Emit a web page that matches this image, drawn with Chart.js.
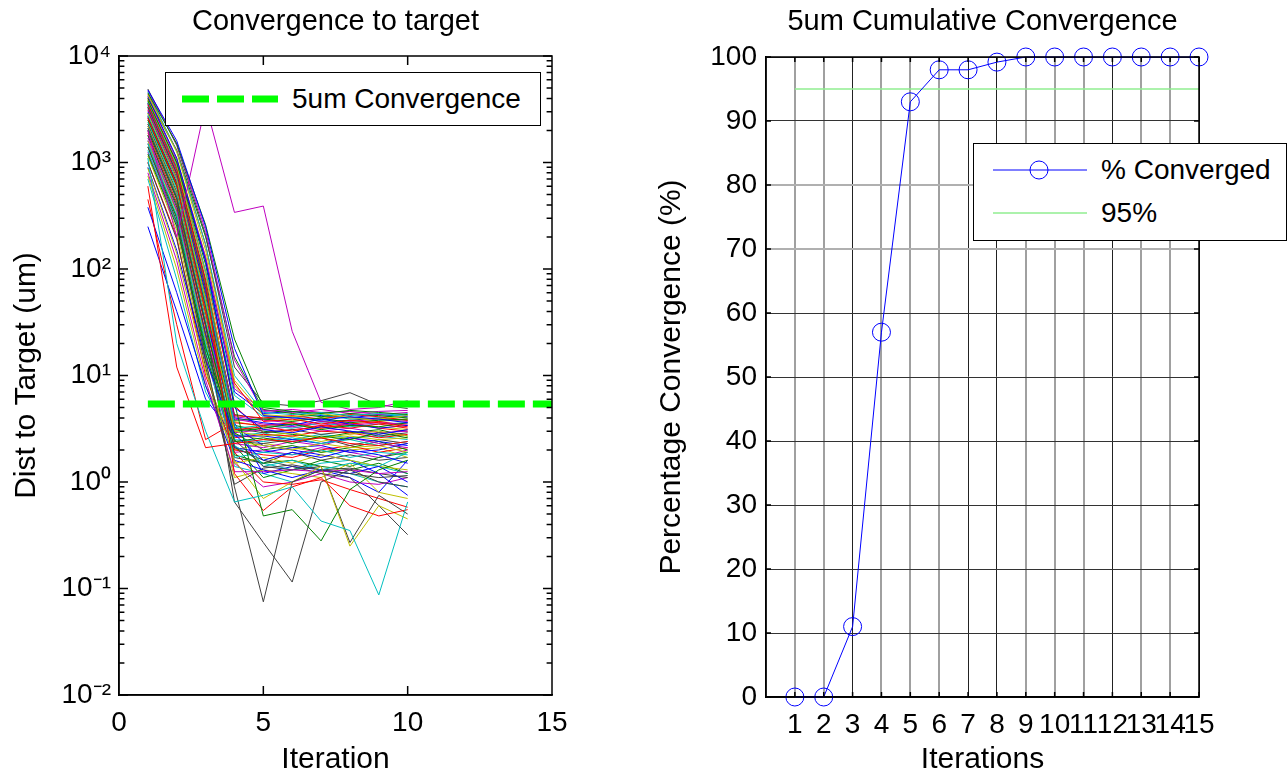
<!DOCTYPE html>
<html>
<head>
<meta charset="utf-8">
<script src="https://cdn.jsdelivr.net/npm/chart.js@4.4.1/dist/chart.umd.min.js"></script>
<style>
  body { margin: 0; background: #fff; font-family: "Liberation Sans", Arial, sans-serif; }
  #wrap { position: relative; width: 1287px; height: 778px; overflow: hidden; }
  .pane { position: absolute; top: 0; height: 778px; }
  .legend { position: absolute; background: #fff; border: 1.5px solid #000; box-sizing: border-box; font-size: 28px; color: #000; }
  .row { position: absolute; left: 0; display: flex; align-items: center; }
  .row svg { margin-right: 14px; }
</style>
</head>
<body>
<div id="wrap">
  <div class="pane" style="left:0;width:640px"><canvas id="left"></canvas></div>
  <div class="pane" style="left:640px;width:647px"><canvas id="right"></canvas></div>

  <div class="legend" style="left:165px;top:72px;width:376px;height:54px">
    <div class="row" style="left:16px;top:10px">
      <svg width="96" height="10"><line x1="0" y1="5" x2="96" y2="5" stroke="#00ff00" stroke-width="7" stroke-dasharray="27 8"/></svg>
      <span>5um Convergence</span>
    </div>
  </div>

  <div class="legend" style="left:973px;top:143px;width:314px;height:98px">
    <div class="row" style="left:19px;top:10px">
      <svg width="94" height="24"><line x1="0" y1="12" x2="94" y2="12" stroke="#0000ff" stroke-width="1"/><circle cx="46" cy="12" r="9" fill="none" stroke="#0000ff" stroke-width="1"/></svg>
      <span>% Converged</span>
    </div>
    <div class="row" style="left:19px;top:53px">
      <svg width="94" height="24"><line x1="0" y1="12" x2="94" y2="12" stroke="#90ee90" stroke-width="1.5"/></svg>
      <span>95%</span>
    </div>
  </div>
</div>

<script>
const FONT = '"Liberation Sans", Arial, sans-serif';
const TICK = 28;
const LABEL = 30;

// ---- left plot: distance to target per run, iterations 1..10 ----
const iterations = [1, 2, 3, 4, 5, 6, 7, 8, 9, 10];

const runsBlue = [
  [4800, 1600, 250, 18, 4.2, 4.0, 3.8, 4.1, 3.9, 3.6],
  [4200, 1100, 120, 5.0, 3.1, 2.9, 3.3, 3.0, 2.8, 3.1],
  [900, 150, 14, 2.8, 1.6, 1.9, 1.7, 2.0, 1.8, 1.5],
  [380, 60, 8, 1.6, 1.3, 1.1, 1.3, 1.2, 1.4, 1.0],
  [250, 40, 6, 2.7, 2.7, 2.5, 2.3, 2.6, 2.4, 2.2],
  [3000, 700, 60, 4.0, 3.6, 3.4, 3.9, 3.5, 3.2, 3.4],
  [2200, 500, 35, 3.3, 2.2, 2.0, 1.8, 1.6, 1.2, 0.75],
  [3600, 1000, 120, 7.0, 4.4, 4.6, 4.2, 4.0, 4.3, 4.1],
  [1600, 350, 25, 2.1, 1.9, 2.1, 2.2, 1.9, 2.0, 2.3],
  [2700, 650, 50, 3.6, 1.2, 1.4, 1.3, 1.1, 0.8, 1.6]
];
const runsGreen = [
  [4500, 1500, 260, 22, 5.0, 4.6, 4.4, 4.7, 4.5, 4.3],
  [3800, 1000, 110, 5.5, 0.48, 0.55, 0.28, 0.85, 1.3, 1.6],
  [2000, 450, 30, 2.4, 2.6, 2.3, 2.7, 2.5, 2.9, 2.6],
  [1200, 250, 18, 3.0, 3.2, 3.5, 3.1, 3.4, 3.3, 3.6],
  [3300, 800, 70, 3.8, 3.9, 3.7, 4.0, 3.6, 3.8, 3.9],
  [4000, 1300, 200, 15, 4.8, 4.4, 4.1, 4.4, 4.2, 4.0],
  [2500, 600, 45, 2.9, 2.0, 2.2, 1.9, 2.1, 2.4, 2.0],
  [1800, 380, 22, 1.8, 1.5, 1.6, 1.4, 1.3, 1.5, 1.2],
  [2900, 720, 55, 3.4, 3.0, 2.8, 2.6, 2.9, 3.1, 2.7],
  [1400, 300, 16, 2.2, 1.1, 1.3, 1.6, 1.4, 1.7, 1.9]
];
const runsRed = [
  [600, 12, 2.1, 2.3, 2.5, 2.4, 2.6, 2.3, 2.2, 2.4],
  [3500, 850, 75, 1.2, 0.54, 0.9, 1.1, 0.6, 0.48, 0.55],
  [4400, 1300, 170, 8.5, 3.7, 3.9, 3.5, 3.8, 3.6, 3.3],
  [2600, 620, 40, 3.1, 3.3, 3.0, 3.4, 3.2, 3.5, 3.2],
  [1900, 420, 28, 2.6, 2.8, 2.7, 3.0, 2.9, 2.6, 2.8],
  [450, 30, 2.5, 3.6, 3.4, 3.6, 3.2, 3.5, 3.7, 3.4],
  [3100, 760, 62, 4.2, 4.0, 4.2, 3.9, 4.3, 4.1, 3.8],
  [1000, 200, 10, 1.9, 1.0, 0.95, 1.05, 0.85, 0.7, 0.58],
  [3900, 980, 95, 5.2, 2.9, 3.1, 3.3, 3.6, 3.2, 3.0],
  [2300, 520, 38, 2.0, 1.8, 1.7, 2.0, 2.2, 1.9, 2.1]
];
const runsCyan = [
  [1100, 20, 3.0, 0.65, 0.75, 0.9, 0.43, 0.35, 0.087, 0.65],
  [4600, 1280, 170, 10, 4.5, 4.3, 4.5, 4.2, 4.4, 4.2],
  [2100, 480, 32, 2.5, 2.4, 2.6, 2.3, 2.5, 2.2, 2.4],
  [3400, 820, 68, 3.5, 1.4, 1.6, 1.3, 1.5, 1.4, 1.9],
  [1500, 320, 20, 1.7, 1.9, 1.8, 2.0, 1.7, 1.9, 1.8],
  [2800, 680, 48, 3.2, 3.4, 3.2, 3.6, 3.3, 3.5, 3.6],
  [3700, 930, 95, 6.5, 4.1, 4.0, 4.3, 3.9, 4.0, 4.4],
  [700, 80, 7, 2.2, 1.5, 1.3, 1.5, 1.6, 1.4, 1.2],
  [2400, 560, 42, 2.7, 2.9, 2.5, 2.8, 2.6, 2.7, 2.5],
  [1300, 270, 17, 1.4, 1.2, 1.0, 1.3, 1.2, 1.0, 0.9]
];
const runsMagenta = [
  [2000, 200, 3500, 340, 390, 26, 5.6, 4.8, 5.0, 5.8],
  [4700, 1500, 230, 14, 4.6, 4.8, 4.5, 4.6, 4.3, 4.5],
  [800, 120, 9, 1.25, 1.25, 1.3, 1.25, 1.3, 1.2, 1.25],
  [3200, 780, 65, 3.9, 3.5, 3.3, 3.7, 3.4, 3.6, 3.5],
  [2000, 460, 30, 2.3, 2.1, 2.4, 2.2, 2.6, 2.3, 2.1],
  [4100, 1050, 130, 7.5, 4.7, 4.5, 4.8, 4.4, 4.6, 4.7],
  [1700, 360, 24, 2.9, 3.1, 3.3, 3.0, 3.2, 2.9, 3.0],
  [2600, 610, 44, 1.5, 0.9, 1.0, 1.2, 1.0, 0.95, 1.1],
  [3500, 880, 80, 4.1, 3.8, 3.6, 3.4, 3.7, 3.9, 3.7],
  [1250, 260, 15, 1.9, 2.0, 1.8, 2.1, 1.9, 1.7, 2.0]
];
const runsYellow = [
  [4300, 1250, 150, 9.0, 4.3, 4.1, 4.4, 4.0, 3.9, 4.2],
  [880, 140, 11, 1.6, 0.7, 1.0, 1.4, 0.25, 0.6, 0.45],
  [2900, 700, 52, 3.0, 2.7, 2.9, 2.6, 2.8, 3.0, 2.7],
  [750, 100, 8, 2.4, 2.2, 2.0, 2.3, 2.1, 2.2, 1.9],
  [2200, 510, 36, 1.5, 1.7, 1.5, 1.8, 1.6, 1.4, 1.3],
  [3800, 950, 88, 3.7, 3.3, 3.5, 3.2, 3.4, 3.3, 3.1],
  [1600, 340, 22, 2.8, 2.5, 2.7, 2.4, 2.7, 2.5, 2.6],
  [4000, 1100, 130, 8.0, 4.2, 3.8, 4.0, 4.1, 3.7, 3.9],
  [1150, 230, 13, 1.1, 1.3, 1.2, 1.1, 1.5, 0.8, 0.7],
  [2500, 590, 46, 2.0, 2.3, 2.1, 1.9, 2.0, 2.1, 1.7]
];
const runsBlack = [
  [1400, 280, 14, 0.9, 0.075, 1.0, 1.3, 1.2, 1.1, 1.15],
  [2100, 470, 30, 0.65, 0.27, 0.115, 1.0, 1.3, 1.0, 0.9],
  [3300, 790, 66, 2.5, 1.4, 1.3, 1.4, 0.27, 0.75, 0.5],
  [1800, 400, 24, 2.1, 1.6, 1.4, 1.2, 1.1, 0.6, 0.32],
  [4900, 1450, 210, 12, 5.5, 5.2, 5.8, 6.9, 5.3, 4.9],
  [2700, 640, 47, 3.2, 2.9, 3.1, 2.8, 3.0, 2.7, 2.9],
  [1000, 190, 12, 0.95, 1.35, 1.45, 1.3, 1.35, 1.2, 1.1],
  [3600, 910, 78, 4.3, 3.9, 4.1, 3.7, 3.8, 4.0, 3.8],
  [2300, 530, 37, 2.4, 2.3, 2.5, 2.6, 2.2, 2.5, 2.3],
  [1500, 310, 19, 1.7, 1.5, 1.9, 1.6, 1.8, 1.6, 1.7]
];

const targetX = [1, 15];
const targetY = 5.4;

const xTicksLeft = [0, 5, 10, 15];
const yTickValues = [0.01, 0.1, 1, 10, 100, 1000, 10000];
const yTickLabels = ['10\u207B\u00B2', '10\u207B\u00B9', '10\u2070', '10\u00B9', '10\u00B2', '10\u00B3', '10\u2074'];

// ---- right plot: cumulative convergence ----
const convIters = [1, 2, 3, 4, 5, 6, 7, 8, 9, 10, 11, 12, 13, 14, 15];
const pctConverged = [0, 0, 11, 57, 93, 98, 98, 99.2, 100, 100, 100, 100, 100, 100, 100];
const target95 = 95;

// matlab style line colour cycle
const groups = [
  [runsBlue, '#0000ff'], [runsGreen, '#008000'], [runsRed, '#ff0000'],
  [runsCyan, '#00bfbf'], [runsMagenta, '#bf00bf'], [runsYellow, '#bfbf00'], [runsBlack, '#404040']
];

const leftSets = [{
  data: targetX.map(x => ({x: x, y: targetY})),
  borderColor: '#00ff00', borderWidth: 7, borderDash: [27, 8],
  pointRadius: 0, order: 0
}];
for (let k = 0; k < 10; k++) {
  for (let g of groups) {
    let run = g[0][k];
    if (!run) continue;
    leftSets.push({
      data: iterations.map((x, i) => ({x: x, y: run[i]})),
      borderColor: g[1], borderWidth: 1, pointRadius: 0, order: 1
    });
  }
}

// box round the axes plus inward tick marks, matlab style
const boxTicks = {
  id: 'boxTicks',
  afterDatasetsDraw(chart, args, opts) {
    const {ctx, chartArea: a, scales} = chart;
    ctx.save();
    ctx.strokeStyle = '#000';
    ctx.lineWidth = 1.5;
    ctx.strokeRect(a.left, a.top, a.right - a.left, a.bottom - a.top);
    ctx.beginPath();
    for (let v of opts.x || []) {
      let px = scales.x.getPixelForValue(v);
      ctx.moveTo(px, a.bottom); ctx.lineTo(px, a.bottom - opts.len);
      ctx.moveTo(px, a.top); ctx.lineTo(px, a.top + opts.len);
    }
    for (let v of opts.y || []) {
      let py = scales.y.getPixelForValue(v);
      ctx.moveTo(a.left, py); ctx.lineTo(a.left + opts.len, py);
      ctx.moveTo(a.right, py); ctx.lineTo(a.right - opts.len, py);
    }
    for (let v of opts.yMinor || []) {
      let py = scales.y.getPixelForValue(v);
      ctx.moveTo(a.left, py); ctx.lineTo(a.left + opts.len * 0.6, py);
      ctx.moveTo(a.right, py); ctx.lineTo(a.right - opts.len * 0.6, py);
    }
    ctx.stroke();
    ctx.restore();
  }
};

// title centred over the plot box rather than the canvas
const boxTitle = {
  id: 'boxTitle',
  afterDraw(chart, args, opts) {
    const {ctx, chartArea: a} = chart;
    ctx.save();
    ctx.fillStyle = '#000';
    ctx.font = opts.size + 'px ' + FONT;
    ctx.textAlign = 'center';
    ctx.textBaseline = 'middle';
    ctx.fillText(opts.text, (a.left + a.right) / 2, opts.y);
    ctx.restore();
  }
};

const yMinor = [];
for (let e = -2; e < 4; e++) {
  for (let m = 2; m < 10; m++) yMinor.push(m * Math.pow(10, e));
}

new Chart(document.getElementById('left'), {
  type: 'line',
  data: {datasets: leftSets},
  options: {
    responsive: true,
    maintainAspectRatio: false,
    animation: false,
    layout: {padding: {left: 0, right: 88, top: 56, bottom: 0}},
    plugins: {
      legend: {display: false},
      tooltip: {enabled: false},
      boxTitle: {text: 'Convergence to target', size: 29, y: 22},
      boxTicks: {x: [5, 10], y: yTickValues, yMinor: yMinor, len: 9}
    },
    scales: {
      x: {
        type: 'linear', min: 0, max: 15,
        afterBuildTicks: s => { s.ticks = xTicksLeft.map(v => ({value: v})); },
        afterFit: s => { s.height = 83; },
        grid: {display: false, drawTicks: false},
        border: {display: true, color: '#000', width: 1.5},
        ticks: {color: '#000', padding: 11, font: {family: FONT, size: TICK}, maxRotation: 0},
        title: {display: true, text: 'Iteration', color: '#000', font: {family: FONT, size: LABEL}, padding: {top: 0, bottom: 0}}
      },
      y: {
        type: 'logarithmic', min: 0.01, max: 10000,
        afterBuildTicks: s => { s.ticks = yTickValues.map(v => ({value: v})); },
        afterFit: s => { s.width = 119; },
        grid: {display: false, drawTicks: false},
        border: {display: true, color: '#000', width: 1.5},
        ticks: {color: '#000', padding: 8, font: {family: FONT, size: TICK}, callback: (v, i) => yTickLabels[i]},
        title: {display: true, text: 'Dist to Target (um)', color: '#000', font: {family: FONT, size: LABEL}, padding: {top: 9, bottom: 0}}
      }
    }
  },
  plugins: [boxTicks, boxTitle]
});

const darkX = [3, 7, 8, 12, 15];
const lightY = [70, 80];

new Chart(document.getElementById('right'), {
  type: 'line',
  data: {
    datasets: [
      {
        label: '% Converged',
        data: convIters.map((x, i) => ({x: x, y: pctConverged[i]})),
        borderColor: '#0000ff', borderWidth: 1,
        pointStyle: 'circle', pointRadius: 9, pointBorderWidth: 1,
        pointBorderColor: '#0000ff', pointBackgroundColor: 'rgba(0,0,0,0)',
        clip: false, order: 0
      },
      {
        label: '95%',
        data: [{x: convIters[0], y: target95}, {x: convIters[convIters.length - 1], y: target95}],
        borderColor: '#90ee90', borderWidth: 1.5, pointRadius: 0, order: 1
      }
    ]
  },
  options: {
    responsive: true,
    maintainAspectRatio: false,
    animation: false,
    layout: {padding: {left: 0, right: 88, top: 57, bottom: 0}},
    plugins: {
      legend: {display: false},
      tooltip: {enabled: false},
      boxTitle: {text: '5um Cumulative Convergence', size: 29, y: 22},
      boxTicks: {x: convIters, y: [0, 10, 20, 30, 40, 50, 60, 70, 80, 90, 100], len: 5}
    },
    scales: {
      x: {
        type: 'linear', min: 0, max: 15,
        afterBuildTicks: s => { s.ticks = convIters.map(v => ({value: v})); },
        afterFit: s => { s.height = 81; },
        grid: {
          drawTicks: false,
          color: c => darkX.includes(c.tick.value) ? '#222' : '#a0a0a0',
          lineWidth: c => darkX.includes(c.tick.value) ? 1 : 2
        },
        border: {display: true, color: '#000', width: 1.5},
        ticks: {color: '#000', padding: 11, autoSkip: false, maxRotation: 0, font: {family: FONT, size: TICK}},
        title: {display: true, text: 'Iterations', color: '#000', font: {family: FONT, size: LABEL}, padding: {top: 0, bottom: 0}}
      },
      y: {
        min: 0, max: 100,
        afterFit: s => { s.width = 126; },
        grid: {
          drawTicks: false,
          color: c => lightY.includes(c.tick.value) ? '#b0b0b0' : '#333',
          lineWidth: c => lightY.includes(c.tick.value) ? 2 : 1
        },
        border: {display: true, color: '#000', width: 1.5},
        ticks: {color: '#000', padding: 9, stepSize: 10, font: {family: FONT, size: TICK}},
        title: {display: true, text: 'Percentage Convergence (%)', color: '#000', font: {family: FONT, size: LABEL}, padding: {top: 14, bottom: 0}}
      }
    }
  },
  plugins: [boxTicks, boxTitle]
});
</script>
</body>
</html>
